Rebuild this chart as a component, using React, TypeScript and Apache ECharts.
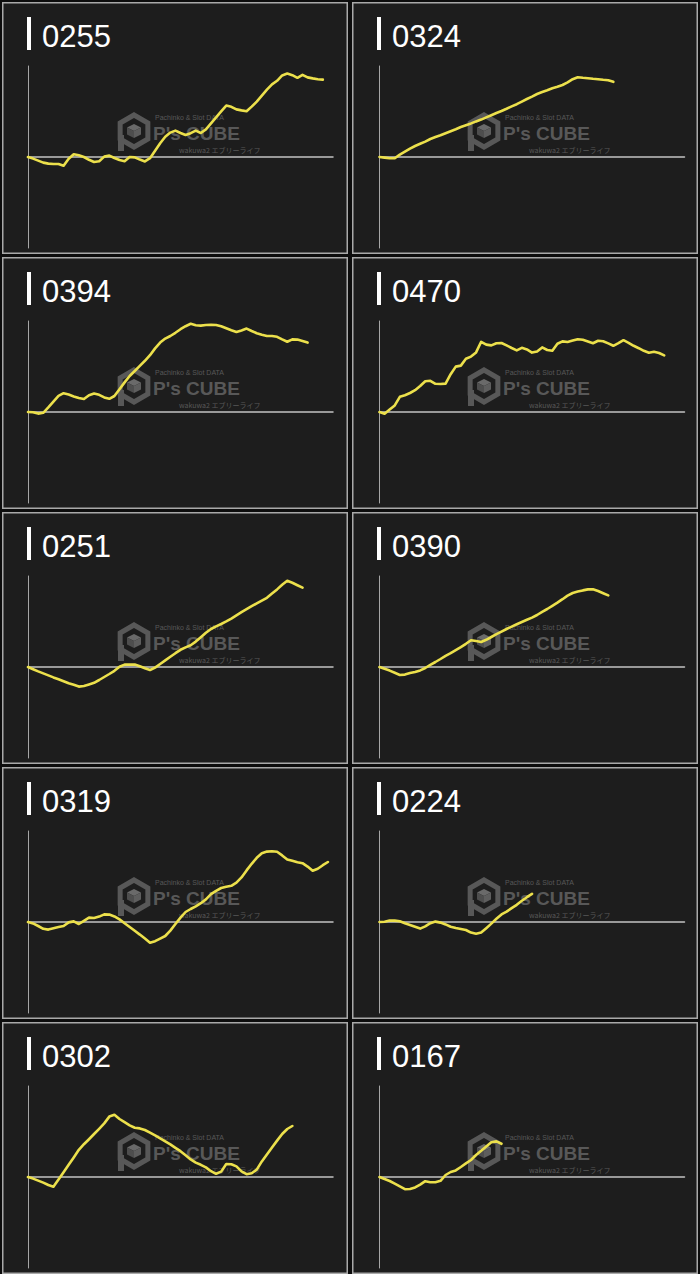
import React, { useEffect, useRef } from "react";
import * as echarts from "echarts";

// ---- data (difference in coins) ----
const MACHINE_IDS = ["0255", "0324", "0394", "0470", "0251", "0390", "0319", "0224", "0302", "0167"];

const S0255 = [0, -80, -180, -280, -330, -350, -350, -440, -90, 140, 90, 0, -140, -250, -210, 20, 70, -50, -150, -210, 0, -20, -130, -220, -60, 310, 690, 1010, 1220, 1320, 1200, 1100, 1190, 1320, 1200, 1380, 1680, 1980, 2280, 2570, 2510, 2380, 2330, 2290, 2520, 2770, 3070, 3370, 3630, 3810, 4080, 4170, 4090, 3960, 4110, 3980, 3930, 3890, 3870];
const S0324 = [0, -30, -60, -60, 120, 270, 420, 550, 660, 770, 900, 1000, 1090, 1190, 1290, 1390, 1500, 1590, 1680, 1780, 1870, 1980, 2090, 2200, 2300, 2410, 2530, 2640, 2770, 2900, 3020, 3150, 3250, 3340, 3440, 3510, 3600, 3730, 3890, 3990, 3960, 3940, 3910, 3890, 3860, 3840, 3760];
const S0394 = [0, -10, -80, -40, 230, 520, 810, 940, 870, 780, 700, 650, 840, 920, 860, 730, 660, 800, 1140, 1480, 1800, 2050, 2310, 2560, 2840, 3180, 3470, 3670, 3800, 3960, 4140, 4290, 4410, 4340, 4320, 4350, 4360, 4350, 4290, 4190, 4090, 4000, 4080, 4170, 4050, 3940, 3860, 3800, 3800, 3760, 3630, 3510, 3630, 3620, 3550, 3470];
const S0470 = [0, -90, 120, 330, 760, 840, 950, 1090, 1300, 1540, 1560, 1410, 1400, 1420, 1890, 2270, 2320, 2660, 2770, 2980, 3510, 3370, 3330, 3440, 3450, 3330, 3200, 3080, 3210, 3130, 2970, 3030, 3230, 3100, 3060, 3410, 3530, 3500, 3570, 3640, 3610, 3530, 3440, 3560, 3540, 3430, 3310, 3440, 3590, 3460, 3310, 3190, 3060, 2960, 3010, 2950, 2830];
const S0251 = [0, -110, -220, -320, -420, -520, -610, -710, -810, -890, -980, -950, -870, -790, -650, -500, -350, -190, 10, 120, 120, 120, 40, -60, -150, -30, 150, 330, 510, 690, 860, 980, 1090, 1270, 1490, 1710, 1900, 2030, 2150, 2280, 2420, 2580, 2740, 2890, 3040, 3180, 3320, 3460, 3670, 3880, 4110, 4310, 4210, 4090, 3970];
const S0390 = [0, -90, -180, -290, -400, -380, -300, -250, -170, -50, 110, 250, 400, 560, 690, 840, 990, 1160, 1340, 1300, 1250, 1360, 1500, 1640, 1770, 1900, 2020, 2140, 2250, 2360, 2470, 2600, 2760, 2900, 3060, 3220, 3390, 3570, 3700, 3770, 3830, 3880, 3890, 3800, 3690, 3580];
const S0319 = [0, -70, -200, -340, -380, -310, -250, -200, -20, 30, -100, 60, 220, 200, 270, 380, 370, 280, 130, -60, -250, -440, -630, -830, -1040, -960, -830, -700, -430, -100, 220, 500, 650, 780, 940, 1130, 1390, 1560, 1700, 1760, 1810, 1970, 2230, 2580, 2910, 3210, 3440, 3520, 3540, 3510, 3330, 3130, 3060, 2990, 2940, 2770, 2560, 2660, 2840, 3000];
const S0224 = [0, 10, 70, 70, 40, -60, -150, -240, -330, -220, -60, 20, -30, -120, -240, -300, -350, -400, -530, -590, -530, -310, -80, 160, 380, 520, 690, 860, 1060, 1240, 1410];
const S0302 = [0, -80, -180, -280, -400, -490, -130, 240, 610, 980, 1360, 1640, 1890, 2150, 2410, 2680, 3020, 3110, 2900, 2740, 2580, 2460, 2430, 2350, 2220, 2080, 1930, 1780, 1630, 1460, 1290, 1090, 880, 720, 610, 480, 290, 160, 270, 650, 640, 530, 280, 140, 190, 370, 780, 1130, 1480, 1820, 2150, 2400, 2550];
const S0167 = [0, -100, -200, -330, -470, -610, -600, -520, -380, -210, -260, -260, -190, 100, 250, 330, 500, 680, 850, 1100, 1310, 1530, 1740, 1780, 1660];

const SERIES_DATA = [S0255, S0324, S0394, S0470, S0251, S0390, S0319, S0224, S0302, S0167];

// x axis: 61 sampling slots (game count steps)
const SLOT_COUNT = 61;
const SLOTS = Array.from({ length: SLOT_COUNT }, (_, i) => String(i * 100));

const Y_LIMIT = 4550;

// ---- layout ----
const W = 700;
const H = 1274;
const COL_X = [2, 352];
const ROW_Y = [2, 257, 512, 767, 1022];
const PANEL_W = 346;
const PANEL_H = 252;

function hexPoints(cx: number, cy: number, r: number) {
  const pts: number[][] = [];
  for (let k = 0; k < 6; k++) {
    const a = (Math.PI / 3) * k - Math.PI / 2;
    pts.push([cx + r * Math.cos(a), cy + r * Math.sin(a)]);
  }
  return pts;
}

function watermark(px: number, py: number) {
  const cx = px + 132;
  const cy = py + 129;
  const g = "#585858";
  const c = 7;
  return {
    type: "group",
    z: -5,
    children: [
      {
        type: "polygon",
        z: -5,
        shape: { points: hexPoints(cx, cy, 16) },
        style: { fill: "none", stroke: g, lineWidth: 5 },
      },
      {
        type: "polygon",
        z: -5,
        shape: { points: [[cx, cy - c], [cx + c, cy - c / 2], [cx, cy], [cx - c, cy - c / 2]] },
        style: { fill: "#6a6a6a" },
      },
      {
        type: "polygon",
        z: -5,
        shape: { points: [[cx - c, cy - c / 2], [cx, cy], [cx, cy + c], [cx - c, cy + c / 2]] },
        style: { fill: "#4e4e4e" },
      },
      {
        type: "polygon",
        z: -5,
        shape: { points: [[cx + c, cy - c / 2], [cx, cy], [cx, cy + c], [cx + c, cy + c / 2]] },
        style: { fill: "#5e5e5e" },
      },
      {
        type: "rect",
        z: -5,
        shape: { x: cx - 16, y: cy + 4, width: 6, height: 16 },
        style: { fill: g },
      },
      {
        type: "text",
        z: -5,
        style: {
          text: "Pachinko & Slot DATA",
          x: px + 153,
          y: py + 115,
          fill: g,
          font: "7px 'Liberation Sans', Arial, sans-serif",
          align: "left",
          verticalAlign: "middle",
          textAlign: "left",
          textVerticalAlign: "middle",
        },
      },
      {
        type: "text",
        z: -5,
        style: {
          text: "P's CUBE",
          x: px + 151,
          y: py + 131,
          fill: g,
          font: "bold 19px 'Liberation Sans', Arial, sans-serif",
          align: "left",
          verticalAlign: "middle",
          textAlign: "left",
          textVerticalAlign: "middle",
        },
      },
      {
        type: "text",
        z: -5,
        style: {
          text: "wakuwa2 エブリーライフ",
          x: px + 177,
          y: py + 148,
          fill: g,
          font: "7px 'Noto Sans CJK JP', sans-serif",
          align: "left",
          verticalAlign: "middle",
          textAlign: "left",
          textVerticalAlign: "middle",
        },
      },
    ],
  };
}

function buildOption() {
  const grids: any[] = [];
  const xAxes: any[] = [];
  const yAxes: any[] = [];
  const series: any[] = [];
  const graphics: any[] = [];

  MACHINE_IDS.forEach((id, k) => {
    const col = k % 2;
    const row = Math.floor(k / 2);
    const px = COL_X[col];
    const py = ROW_Y[row];

    graphics.push({
      type: "rect",
      z: -10,
      shape: { x: px + 0.75, y: py + 0.75, width: PANEL_W - 1.5, height: PANEL_H - 1.5 },
      style: { fill: "#1d1d1d", stroke: "#a9a9a9", lineWidth: 1.5 },
    });
    graphics.push({
      type: "rect",
      z: 10,
      shape: { x: px + 25, y: py + 15, width: 4, height: 33 },
      style: { fill: "#ffffff" },
    });
    graphics.push({
      type: "text",
      z: 10,
      style: {
        text: id,
        x: px + 40,
        y: py + 34.5,
        fill: "#ffffff",
        font: "31px 'Liberation Sans', Arial, sans-serif",
        align: "left",
        verticalAlign: "middle",
        textAlign: "left",
        textVerticalAlign: "middle",
      },
    });
    graphics.push(watermark(px, py));

    grids.push({
      left: px + (col === 0 ? 26 : 27.5),
      top: py + 64,
      width: 305,
      height: 182,
      containLabel: false,
    });
    xAxes.push({
      type: "category",
      gridIndex: k,
      data: SLOTS,
      boundaryGap: false,
      z: 3,
      axisLine: { show: true, onZero: true, lineStyle: { color: "#c2c2c2", width: 1.5 } },
      axisTick: { show: false },
      axisLabel: { show: false },
      splitLine: { show: false },
    });
    yAxes.push({
      type: "value",
      gridIndex: k,
      min: -Y_LIMIT,
      max: Y_LIMIT,
      z: 3,
      axisLine: { show: true, lineStyle: { color: "#a6a6a6", width: 1 } },
      axisTick: { show: false },
      axisLabel: { show: false },
      splitLine: { show: false },
    });
    series.push({
      type: "line",
      name: id,
      xAxisIndex: k,
      yAxisIndex: k,
      data: SERIES_DATA[k],
      symbol: "none",
      showSymbol: false,
      z: 5,
      lineStyle: { color: "#ece04c", width: 2.6, join: "round", cap: "round" },
    });
  });

  return {
    animation: false,
    backgroundColor: "#0c0c0c",
    grid: grids,
    xAxis: xAxes,
    yAxis: yAxes,
    series,
    graphic: { elements: graphics },
  };
}

export default function App() {
  const ref = useRef<HTMLDivElement>(null);
  useEffect(() => {
    document.body.style.margin = "0";
    document.body.style.background = "#0c0c0c";
    if (!ref.current) return;
    const chart = echarts.init(ref.current, undefined, { renderer: "svg" });
    chart.setOption(buildOption() as any);
    return () => chart.dispose();
  }, []);
  return <div ref={ref} style={{ width: W, height: H }} />;
}
